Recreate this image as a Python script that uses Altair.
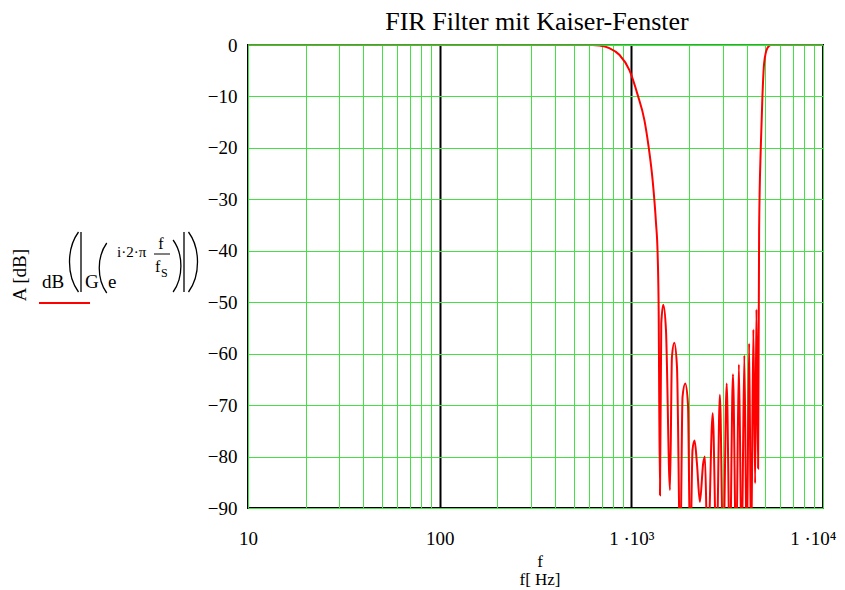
import altair as alt
import pandas as pd

# ---- data (frequency in Hz, attenuation in dB) ----
freq = [10, 626, 681, 767, 866, 977, 1079, 1170, 1231, 1291, 1345, 1371, 1387, 1411,
        1433, 1468, 1516, 1591, 1629, 1675, 1730, 1800, 1850, 1911, 1974, 2029, 2086,
        2137, 2199, 2279, 2371, 2420, 2502, 2658, 2782, 2897, 3015, 3144, 3266, 3390,
        3523, 3640, 3763, 3887, 4000, 4118, 4217, 4331, 4425, 4494, 4586, 4642, 4737,
        4830, 4928, 5129, 5341, 10000]
gain = [0, 0, -0.1, -0.6, -1.9, -4.9, -9.7, -14.6, -19.8, -26.2, -34.6, -40.4, -49.6, -87.5,
        -54.1, -50.5, -55.4, -86.5, -60.6, -57.9, -62.5, -100, -68.4, -65.8, -69.7, -100, -78.7,
        -76.9, -81.3, -88.8, -81.3, -80, -100, -71.6, -100, -68, -100, -65.8, -100, -64,
        -100, -62.1, -100, -60.3, -100, -58, -100, -55.3, -85.2, -51.4, -82.3, -36, -19.8,
        -10, -3.6, -0.6, 0, 0]

x_grid = [10, 20, 30, 40, 50, 60, 70, 80, 90,
          100, 200, 300, 400, 500, 600, 700, 800, 900,
          1000, 2000, 3000, 4000, 5000, 6000, 7000, 8000, 9000, 10000]
y_ticks = [-90, -80, -70, -60, -50, -40, -30, -20, -10, 0]

title_text = "FIR Filter mit Kaiser-Fenster"
y_title = "A [dB]"
x_title_lines = ["f", "f[ Hz]"]

GREEN = "#44e044"
FONT = "Liberation Serif"
L, T = 248, 45  # plot origin on the page

df = pd.DataFrame({"f": freq, "A": gain})

decade = "datum.value == 100 || datum.value == 1000"
last = "datum.value == 10000"
x_axis = alt.Axis(
    values=x_grid,
    labelExpr="datum.value == 10 ? '10' : datum.value == 100 ? '100' : "
              "datum.value == 1000 ? '1 ·10³' : datum.value == 10000 ? '1 ·10⁴' : ''",
    ticks=False, tickSize=0, domain=False, grid=True,
    gridColor={"condition": {"test": decade, "value": "black"}, "value": GREEN},
    gridWidth={"condition": {"test": decade, "value": 2}, "value": 1},
    gridOpacity=1,
    labelAlign={"condition": {"test": last, "value": "right"}, "value": "center"},
    labelOffset={"condition": {"test": last, "value": 13}, "value": 0},
    labelFont=FONT, labelFontSize=19, labelColor="black", labelPadding=21,
    labelOverlap=False, labelFlush=False, title=None,
)
y_axis = alt.Axis(
    values=y_ticks, ticks=False, tickSize=0, domain=False, grid=True,
    gridColor=GREEN, gridWidth=1, gridOpacity=1,
    labelFont=FONT, labelFontSize=19, labelColor="black", labelPadding=11,
    title=None,
)

curve = alt.Chart(df).mark_line(color="#ff0000", strokeWidth=2, clip=True,
                                interpolate="monotone").encode(
    x=alt.X("f:Q", scale=alt.Scale(type="log", domain=[10, 10000], nice=False), axis=x_axis),
    y=alt.Y("A:Q", scale=alt.Scale(domain=[-90, 0], nice=False, zero=False), axis=y_axis),
    order="f:Q",
)


def txt(text, x, y, size=19, align="left", baseline="alphabetic", angle=0):
    return alt.Chart(pd.DataFrame({"t": [text]})).mark_text(
        font=FONT, fontSize=size, align=align, baseline=baseline, angle=angle, color="black"
    ).encode(x=alt.value(x - L), y=alt.value(y - T), text="t:N")


def bracket(path, cx, cy, h, width=1.3):
    return alt.Chart(pd.DataFrame({"t": [0]})).mark_point(
        shape=path, size=h * h, filled=False, stroke="black", strokeWidth=width, opacity=1
    ).encode(x=alt.value(cx - L), y=alt.value(cy - T))


def hline(x1, x2, y, color="black", w=1):
    return alt.Chart(pd.DataFrame({"t": [0]})).mark_rule(color=color, strokeWidth=w).encode(
        x=alt.value(x1 - L), x2=alt.value(x2 - L), y=alt.value(y - T)
    )


LP = "M0.15,-1 C-0.25,-0.45 -0.25,0.45 0.15,1"
RP = "M-0.15,-1 C0.25,-0.45 0.25,0.45 -0.15,1"
BAR = "M0,-1 L0,1"

layers = [
    curve,
    hline(248, 823, 45, color=GREEN, w=1.5),
    txt(title_text, 537, 22, size=26, align="center", baseline="middle"),
    txt(y_title, 20, 275, size=19, align="center", baseline="middle", angle=270),
    txt("dB", 42, 288),
    bracket(LP, 74, 262, 60),
    bracket(BAR, 81, 262, 60),
    txt("G", 85, 288),
    bracket(LP, 103, 268, 50),
    txt("e", 108, 288),
    txt("i·2·π", 117, 257, size=15),
    txt("f", 161, 249, size=16, align="center"),
    hline(154, 170, 254),
    txt("f", 155, 272, size=16),
    txt("S", 161, 277, size=12),
    bracket(RP, 177, 266, 52),
    bracket(BAR, 184, 262, 60),
    bracket(RP, 193, 262, 60),
    hline(39, 90, 303, color="#ff0000", w=2),
    txt(x_title_lines[0], 540, 562, size=17, align="center", baseline="middle"),
    txt(x_title_lines[1], 540, 580, size=17, align="center", baseline="middle"),
]

chart = alt.layer(*layers).properties(
    width=575, height=463,
    autosize=alt.AutoSizeParams(type="none"),
    padding={"left": 240, "top": 37, "right": 14, "bottom": 80},
).configure_view(stroke="black", strokeWidth=2)

chart.save("out.html", embed_options={"renderer": "svg", "actions": False})
